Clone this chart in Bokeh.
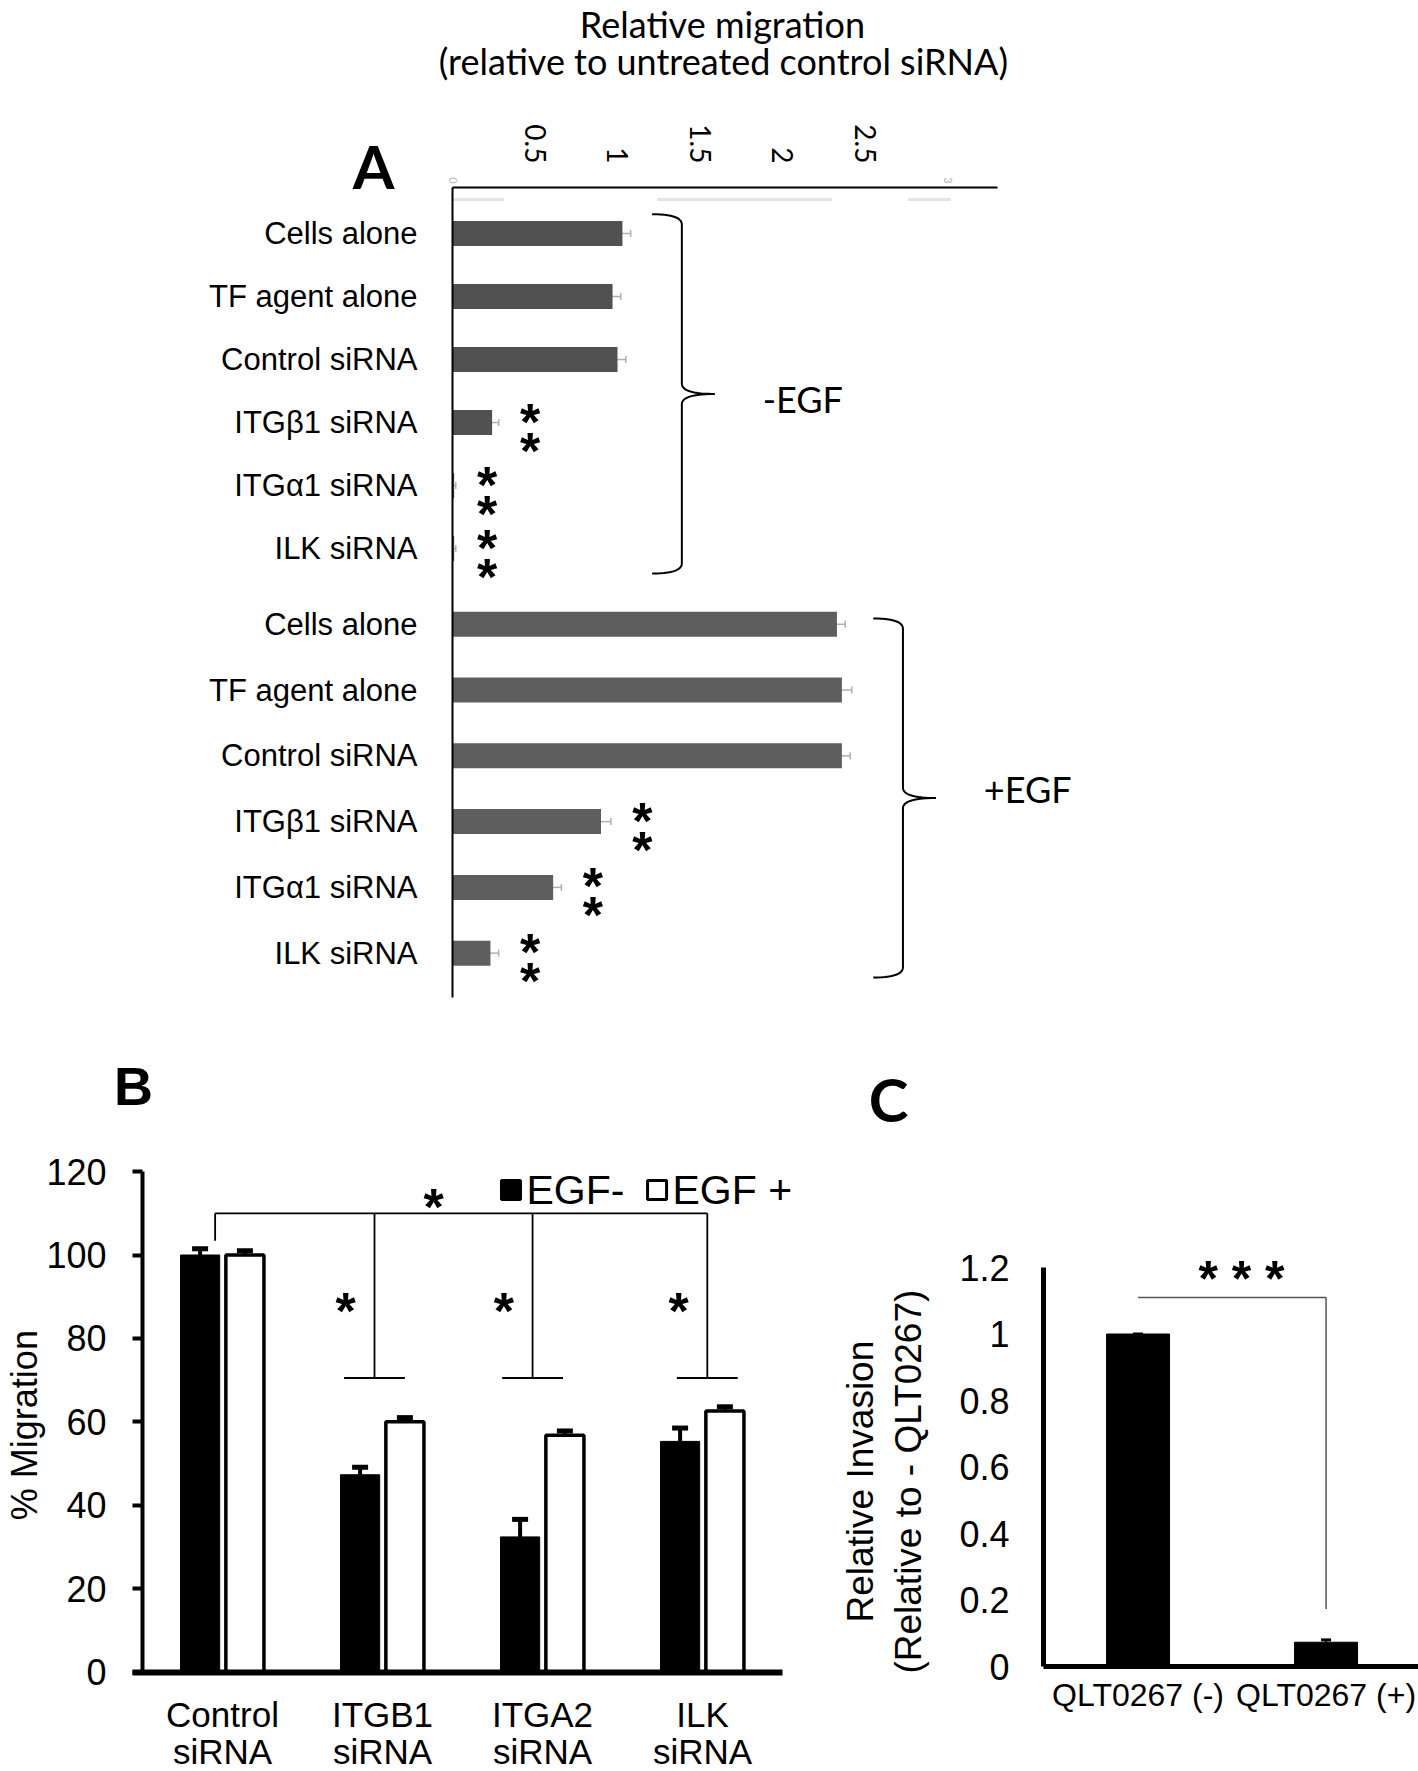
import math
import numpy as np
from bokeh.plotting import figure
from bokeh.layouts import column, row
from bokeh.models import (Range1d, FixedTicker, LinearAxis, Label, LabelSet, ColumnDataSource,
                          Whisker, TeeHead, NumeralTickFormatter)
from bokeh.core.properties import value
from bokeh.embed import file_html
from bokeh.resources import INLINE

# ---------------- data ----------------
# Panel A: relative migration (relative to untreated control siRNA)
a_treatments = ["Cells alone", "TF agent alone", "Control siRNA", "ITGβ1 siRNA", "ITGα1 siRNA", "ILK siRNA"]
a_groups = ["-EGF", "+EGF"]
a_minus_egf = [1.03, 0.97, 1.00, 0.24, 0.01, 0.01]
a_minus_egf_err = [0.05, 0.05, 0.05, 0.04, 0.01, 0.01]
a_plus_egf = [2.33, 2.36, 2.36, 0.90, 0.61, 0.23]
a_plus_egf_err = [0.05, 0.06, 0.05, 0.06, 0.05, 0.05]
a_minus_sig = ["", "", "", "**", "**", "**"]
a_plus_sig = ["", "", "", "**", "**", "**"]
a_xticks = [0.5, 1, 1.5, 2, 2.5]
a_faint_ticks = [0, 3]

# Panel B: % migration
b_categories = ["Control siRNA", "ITGB1 siRNA", "ITGA2 siRNA", "ILK siRNA"]
b_series = ["EGF-", "EGF +"]
b_egf_minus = [100, 47.3, 32.4, 55.3]
b_egf_minus_err = [1.5, 1.8, 4.2, 3.2]
b_egf_plus = [100, 60.0, 56.8, 62.6]
b_egf_plus_err = [1.0, 1.0, 1.0, 1.0]
b_yticks = [0, 20, 40, 60, 80, 100, 120]

# Panel C: relative invasion
c_categories = ["QLT0267 (-)", "QLT0267 (+)"]
c_values = [1.0, 0.073]
c_err = [0.0, 0.007]
c_yticks = [0, 0.2, 0.4, 0.6, 0.8, 1.0, 1.2]

ARIAL = "Liberation Sans"
CALIBRI = "Lato"
W = 1418
HA = 1010
HB = 1771 - HA
WB = 820


def make_fig(w, h, xr, yr):
    p = figure(width=w, height=h, x_range=xr, y_range=yr, x_axis_location=None, y_axis_location=None,
               toolbar_location=None, output_backend="svg", min_border=0)
    p.title.visible = False
    p.outline_line_color = None
    p.background_fill_color = "white"
    p.border_fill_color = "white"
    p.xgrid.visible = False
    p.ygrid.visible = False
    return p


def lab(p, x, y, text, font=ARIAL, size=30, style="normal", align="center", angle=0, color="black"):
    p.add_layout(Label(x=x, y=y, text=text, text_font=font, text_font_size=f"{size}px",
                       text_font_style=style, text_align=align, text_baseline="middle",
                       angle=angle, text_color=color))


def qbez(p0, p1, p2, n=14):
    t = np.linspace(0, 1, n)
    x = (1 - t) ** 2 * p0[0] + 2 * (1 - t) * t * p1[0] + t ** 2 * p2[0]
    y = (1 - t) ** 2 * p0[1] + 2 * (1 - t) * t * p1[1] + t ** 2 * p2[1]
    return list(x), list(y)


def brace(x0, x1, x2, yt, yb, r):
    ym = (yt + yb) / 2
    xs, ys = [], []
    for seg in [((x0, yt), (x1, yt), (x1, yt + r)),
                ((x1, ym - r), (x1, ym), (x2, ym)),
                ((x2, ym), (x1, ym), (x1, ym + r)),
                ((x1, yb - r), (x1, yb), (x0, yb))]:
        sx, sy = qbez(*seg)
        xs += sx
        ys += sy
    return xs, ys


# ================= Panel A =================
PX_A = 165.0      # px per unit (x)
PITCH = 63.98     # px per slot unit (y)
X0_A = 452        # px of value 0
Y0_A = 233        # px of first slot
n = len(a_treatments)
group_start = [0.0, 6.108]
group_step = [0.985, 1.028]
slots = [group_start[g] + np.arange(n, dtype=float) * group_step[g] for g in range(2)]
axis_top = -0.72
axis_bot = 11.94

pA = make_fig(W, HA, Range1d(-X0_A / PX_A, (W - X0_A) / PX_A),
              Range1d((HA - Y0_A) / PITCH, -Y0_A / PITCH))

groups_vals = [(a_minus_egf, a_minus_egf_err, a_minus_sig), (a_plus_egf, a_plus_egf_err, a_plus_sig)]
bar_colors = ["#515151", "#5e5e5e"]
ys, vals, errs, cols = [], [], [], []
for g, (v, e, s) in enumerate(groups_vals):
    ys += [float(y) for y in slots[g]]
    vals += v
    errs += e
    cols += [bar_colors[g]] * n
srcA = ColumnDataSource(dict(y=ys, v=vals, lo=[a - b for a, b in zip(vals, errs)],
                             hi=[a + b for a, b in zip(vals, errs)], color=cols))
pA.hbar(y="y", left=0, right="v", height=25 / PITCH, fill_color="color", line_color=None, source=srcA)
pA.add_layout(Whisker(source=srcA, base="y", lower="lo", upper="hi", dimension="width",
                      line_color="#b0b0b0", line_width=1.5,
                      lower_head=TeeHead(size=7, line_color="#b0b0b0", line_width=1.5),
                      upper_head=TeeHead(size=7, line_color="#b0b0b0", line_width=1.5)))

# faint gridline remnants
pA.segment(x0=[0, 1.24, 2.76], x1=[0.31, 2.30, 3.02], y0=[-0.53] * 3, y1=[-0.53] * 3,
           line_color="#e4e4e4", line_width=3)

# significance asterisks
ast_x, ast_y = [], []
for g, (v, e, s) in enumerate(groups_vals):
    for i, mark in enumerate(s):
        for k in range(len(mark)):
            ast_x.append(v[i] + e[i] + 0.19)
            ast_y.append(float(slots[g][i]) + (-1 + 29 * k) / PITCH)
pA.text(x=ast_x, y=ast_y, text=["*"] * len(ast_x), text_font=value(ARIAL), text_font_style="bold",
        text_font_size="52px", text_align="center", text_baseline="middle", text_color="black")

# braces and group labels
brace_pad = [(-0.3, 0.39), (-0.09, 0.38)]
label_nudge = [0.08, -0.14]
for g, (v, e, s) in enumerate(groups_vals):
    gmax = max(a + b for a, b in zip(v, e))
    x0 = gmax + 0.13
    x1 = x0 + 0.18
    x2 = x1 + 0.2
    yt = float(slots[g][0]) + brace_pad[g][0]
    yb = float(slots[g][-1]) + brace_pad[g][1]
    bx, by = brace(x0, x1, x2, yt, yb, 0.16)
    pA.line(bx, by, line_color="black", line_width=2)
    lab(pA, x2 + 0.29, (yt + yb) / 2 + label_nudge[g], a_groups[g], font=CALIBRI, size=36, align="left")

axA = LinearAxis(fixed_location=axis_top, ticker=FixedTicker(ticks=a_xticks),
                 formatter=NumeralTickFormatter(format="0.[0]"), bounds=(0, 3.3),
                 major_label_orientation=-math.pi / 2,
                 major_tick_out=0, major_tick_in=0, minor_tick_out=0, minor_tick_in=0,
                 axis_line_width=2, axis_line_color="black", major_label_standoff=24,
                 major_label_text_font=CALIBRI, major_label_text_font_size="28px",
                 major_label_text_color="black")
pA.add_layout(axA, "above")

all_slots = [float(s) for g in slots for s in g]
overrides = {float(s): t for g in slots for s, t in zip(g, a_treatments)}
ayA = LinearAxis(fixed_location=0, ticker=FixedTicker(ticks=all_slots), major_label_overrides=overrides,
                 bounds=(axis_top, axis_bot),
                 major_tick_out=0, major_tick_in=0, minor_tick_out=0, minor_tick_in=0,
                 axis_line_width=2, axis_line_color="black", major_label_standoff=35,
                 major_label_text_font=ARIAL, major_label_text_font_size="31px",
                 major_label_text_color="black")
pA.add_layout(ayA, "left")

for t in a_faint_ticks:
    lab(pA, t, -0.83, str(t), font=CALIBRI, size=11, angle=-math.pi / 2, color="#b8b8b8")

lab(pA, 1.636, -3.27, "Relative migration", font=CALIBRI, size=36)
lab(pA, 1.642, -2.69, "(relative to untreated control siRNA)", font=CALIBRI, size=36)
lab(pA, -0.479, -1.048, "A", font=CALIBRI, size=60, style="bold")

# ================= Panel B =================
PX_B = 160.0   # px per category
X0_B = 142
PY_B = 4.17    # px per % unit
Y0_B = 1671.5 - HA  # px (within figure) of value 0
pB = make_fig(WB, HB, Range1d(-X0_B / PX_B, (WB - X0_B) / PX_B),
              Range1d((Y0_B - HB) / PY_B, Y0_B / PY_B))
xc = np.arange(len(b_categories)) + 0.5
DODGE = 0.14
srcBm = ColumnDataSource(dict(x=xc - DODGE, top=b_egf_minus,
                              lo=[a - b for a, b in zip(b_egf_minus, b_egf_minus_err)],
                              hi=[a + b for a, b in zip(b_egf_minus, b_egf_minus_err)]))
srcBp = ColumnDataSource(dict(x=xc + DODGE, top=b_egf_plus,
                              lo=[a - b for a, b in zip(b_egf_plus, b_egf_plus_err)],
                              hi=[a + b for a, b in zip(b_egf_plus, b_egf_plus_err)]))
pB.vbar(x="x", top="top", bottom=0, width=0.245, fill_color="black", line_color="black",
        line_width=1, source=srcBm)
pB.vbar(x="x", top="top", bottom=0, width=0.238, fill_color="white", line_color="black",
        line_width=3.5, source=srcBp)
for src in (srcBm, srcBp):
    pB.add_layout(Whisker(source=src, base="x", lower="lo", upper="hi", dimension="height",
                          line_color="black", line_width=4,
                          upper_head=TeeHead(size=16, line_color="black", line_width=5),
                          lower_head=None))

# significance brackets
sig_dodge = np.array([-0.046, -0.05, -0.062, 0.03])
top_y, ctrl_y, cap_y = 110, 103.4, 70.5
sx = xc + sig_dodge
pB.segment(x0=[sx[0]], x1=[sx[-1]], y0=[top_y], y1=[top_y], line_color="black", line_width=1.8)
pB.segment(x0=[sx[0]], x1=[sx[0]], y0=[top_y], y1=[ctrl_y], line_color="black", line_width=1.8)
pB.segment(x0=list(sx[1:]), x1=list(sx[1:]), y0=[top_y] * 3, y1=[cap_y] * 3, line_color="black", line_width=1.8)
pB.segment(x0=list(sx[1:] - 0.19), x1=list(sx[1:] + 0.19), y0=[cap_y] * 3, y1=[cap_y] * 3,
           line_color="black", line_width=1.8)
pB.text(x=[1.819] + list(sx[1:] - 0.18), y=[111.4, 86.6, 86.6, 86.6], text=["*"] * 4,
        text_font=value(ARIAL), text_font_style="bold", text_font_size="52px", text_align="center",
        text_baseline="middle", text_color="black")

ayB = LinearAxis(fixed_location=0, ticker=FixedTicker(ticks=b_yticks), bounds=(0, 120),
                 major_tick_out=10, major_tick_in=0,
                 minor_tick_out=0, minor_tick_in=0, major_tick_line_width=4, axis_line_width=4,
                 major_label_standoff=26, major_label_text_font=ARIAL, major_label_text_font_size="36px",
                 major_label_text_color="black")
pB.add_layout(ayB, "left")
axB = LinearAxis(fixed_location=0, ticker=FixedTicker(ticks=[]), bounds=(-0.0625, len(b_categories)),
                 major_tick_out=0, major_tick_in=0, minor_tick_out=0,
                 minor_tick_in=0, axis_line_width=6, major_label_text_font_size="0px")
pB.add_layout(axB, "below")

srcBL = ColumnDataSource(dict(x=xc, l1=[c.split(" ", 1)[0] for c in b_categories],
                              l2=[c.split(" ", 1)[1] for c in b_categories]))
pB.add_layout(LabelSet(x="x", y=(1671.5 - 1714) / PY_B, text="l1", source=srcBL, text_font=value(ARIAL),
                       text_font_size="35px", text_align="center", text_baseline="middle", text_color="black"))
pB.add_layout(LabelSet(x="x", y=(1671.5 - 1751) / PY_B, text="l2", source=srcBL, text_font=value(ARIAL),
                       text_font_size="35px", text_align="center", text_baseline="middle", text_color="black"))

# legend (keys + labels)
leg_y = 115.6
pB.rect(x=[2.303, 3.216], y=[leg_y, leg_y], width=19, height=19, width_units="screen",
        height_units="screen", fill_color=["black", "white"], line_color="black", line_width=3)
lab(pB, 2.40, leg_y, b_series[0], size=41, align="left")
lab(pB, 3.3125, leg_y, b_series[1], size=41, align="left")

lab(pB, (24 - X0_B) / PX_B, 59.2, "% Migration", size=36, angle=math.pi / 2)
lab(pB, -0.056, 140.6, "B", size=54, style="bold")

# ================= Panel C =================
PX_C = 188.0
X0_C = 1043 - WB
C_AX = -0.503
PY_C = 332.5
Y0_C = 1666 - HA
pC = make_fig(W - WB, HB, Range1d(C_AX - X0_C / PX_C, C_AX + (W - WB - X0_C) / PX_C),
              Range1d((Y0_C - HB) / PY_C, Y0_C / PY_C))
cx = list(range(len(c_categories)))
srcC = ColumnDataSource(dict(x=cx, top=c_values, lo=[a - b for a, b in zip(c_values, c_err)],
                             hi=[a + b for a, b in zip(c_values, c_err)]))
pC.vbar(x="x", top="top", bottom=0, width=0.335, fill_color="black", line_color="black", source=srcC)
pC.add_layout(Whisker(source=srcC, base="x", lower="lo", upper="hi", dimension="height",
                      line_color="black", line_width=2,
                      upper_head=TeeHead(size=10, line_color="black", line_width=3), lower_head=None))
pC.segment(x0=[cx[0]], x1=[cx[1]], y0=[1.11], y1=[1.11], line_color="#555555", line_width=1.5)
pC.segment(x0=[cx[1]], x1=[cx[1]], y0=[1.11], y1=[0.173], line_color="#555555", line_width=1.5)
lab(pC, 0.55, 1.164, "* * *", size=50, style="bold")

ayC = LinearAxis(fixed_location=C_AX, ticker=FixedTicker(ticks=c_yticks), bounds=(0, 1.2),
                 formatter=NumeralTickFormatter(format="0.[0]"),
                 major_tick_out=0, major_tick_in=0, minor_tick_out=0, minor_tick_in=0, axis_line_width=5,
                 major_label_standoff=34, major_label_text_font=ARIAL, major_label_text_font_size="36px",
                 major_label_text_color="black")
pC.add_layout(ayC, "left")
axC = LinearAxis(fixed_location=0, ticker=FixedTicker(ticks=cx), bounds=(C_AX, C_AX + (W - WB - X0_C) / PX_C),
                 major_label_overrides={i: c for i, c in zip(cx, c_categories)},
                 major_tick_out=0, major_tick_in=0, minor_tick_out=0, minor_tick_in=0, axis_line_width=5,
                 major_label_standoff=10, major_label_text_font=ARIAL, major_label_text_font_size="32px",
                 major_label_text_color="black")
pC.add_layout(axC, "below")

lab(pC, -1.476, 0.556, "Relative Invasion", size=37, angle=math.pi / 2)
lab(pC, -1.221, 0.556, "(Relative to - QLT0267)", size=37, angle=math.pi / 2)
lab(pC, -1.327, 1.708, "C", font=CALIBRI, size=60, style="bold")

layout = column(pA, row(pB, pC))
open("out.html", "w").write(file_html(layout, INLINE))
